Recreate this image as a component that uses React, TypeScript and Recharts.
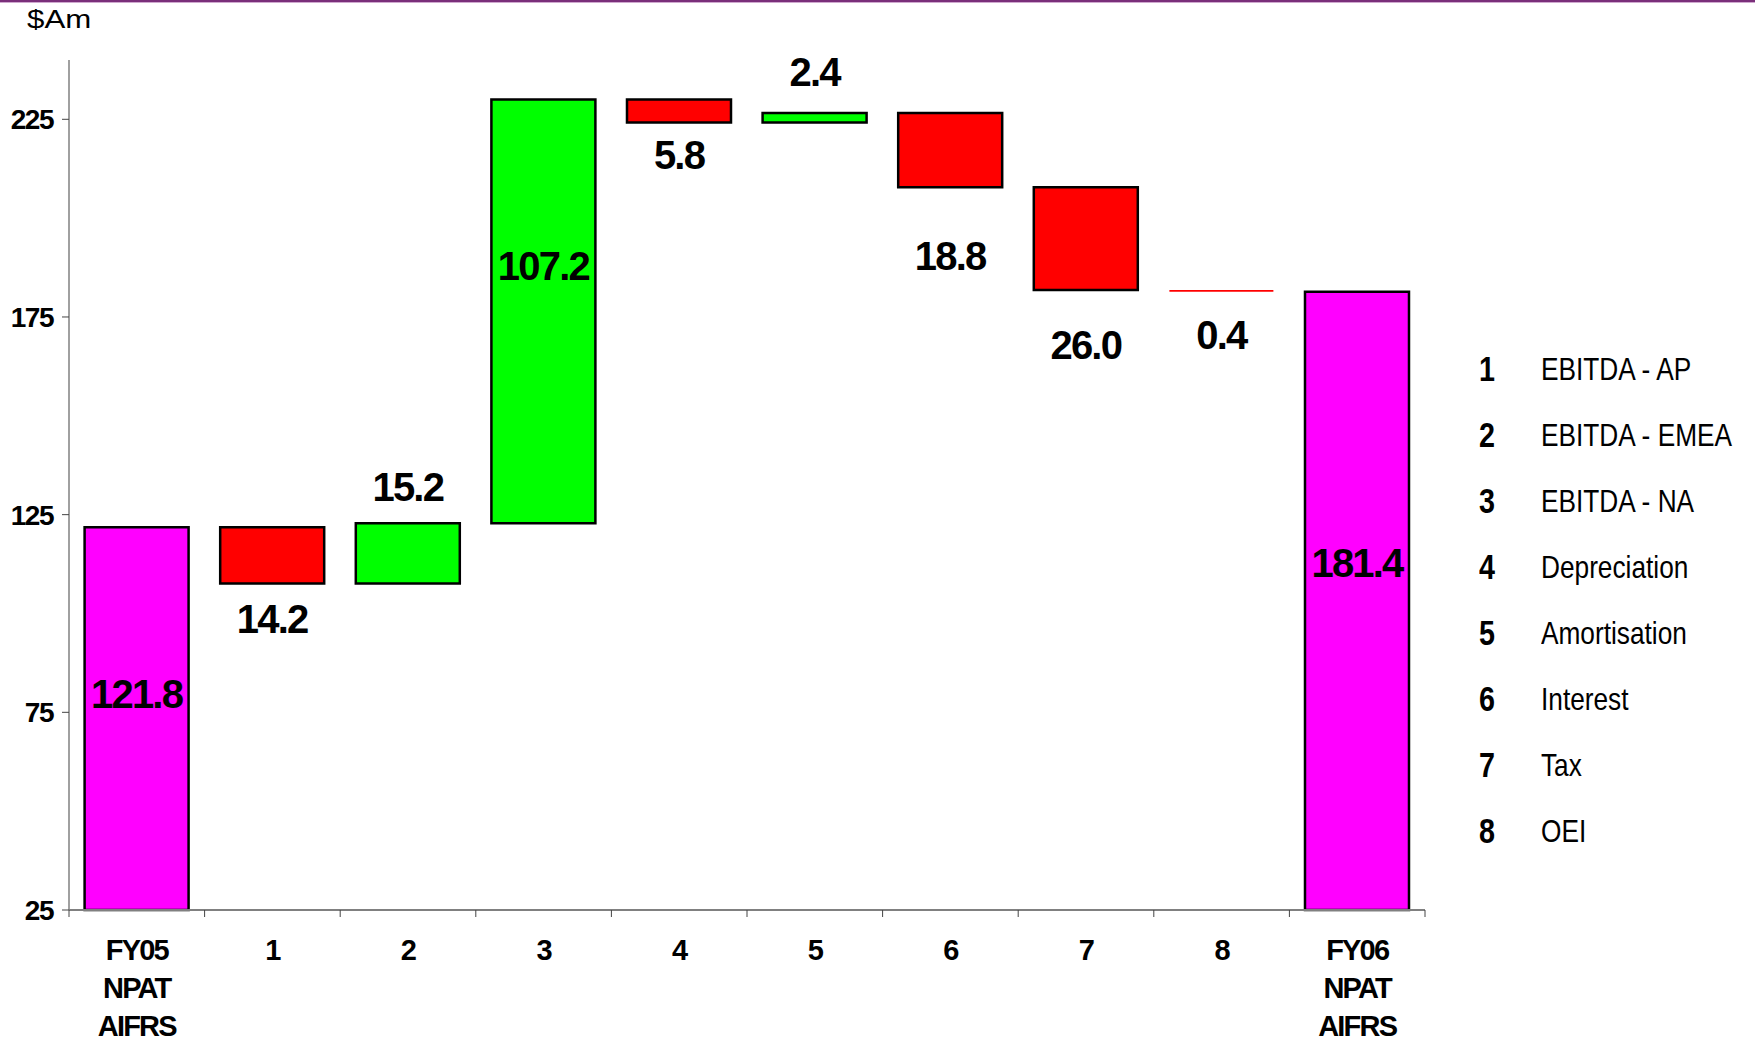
import { Bar, BarChart, Cell, LabelList, XAxis, YAxis } from "recharts";

// NPAT bridge, FY05 -> FY06 ($Am)
const categories = [
  "FY05 NPAT AIFRS",
  "1",
  "2",
  "3",
  "4",
  "5",
  "6",
  "7",
  "8",
  "FY06 NPAT AIFRS",
];
const openingNpat = 121.8;
const movements = [-14.2, 15.2, 107.2, -5.8, 2.4, -18.8, -26.0, -0.4];
const closingNpat = 181.4;
const legendItems = [
  "EBITDA - AP",
  "EBITDA - EMEA",
  "EBITDA - NA",
  "Depreciation",
  "Amortisation",
  "Interest",
  "Tax",
  "OEI",
];
const yTicks = [25, 75, 125, 175, 225];

// value labels sit at hand-picked offsets (px) from the top of each bar
const labelDy = [167, 92, -36, 166, 55, -41, 143, 158, 45, 271];

const Y_MIN = 25;
const Y_MAX = 240;

const CHART_W = 1755;
const CHART_H = 1043;
const Y_AXIS_W = 69;
const RIGHT_GAP = 330;
const X_AXIS_H = 133;
const HALF_BAND = (CHART_W - Y_AXIS_W - RIGHT_GAP) / categories.length / 2;

const COLORS = { total: "#FF00FF", up: "#00FF00", down: "#FF0000" };
const BOLD_FONT = "'Liberation Sans', Arial, Helvetica, sans-serif";

type Row = {
  name: string;
  range: [number, number];
  value: number;
  kind: "total" | "up" | "down";
};

function buildRows(): Row[] {
  const rows: Row[] = [
    { name: categories[0], range: [Y_MIN, openingNpat], value: openingNpat, kind: "total" },
  ];
  let running = openingNpat;
  movements.forEach((m, i) => {
    const next = Math.round((running + m) * 10) / 10;
    rows.push({
      name: categories[i + 1],
      range: [Math.min(running, next), Math.max(running, next)],
      value: Math.abs(m),
      kind: m < 0 ? "down" : "up",
    });
    running = next;
  });
  rows.push({
    name: categories[categories.length - 1],
    range: [Y_MIN, closingNpat],
    value: closingNpat,
    kind: "total",
  });
  return rows;
}

const rows = buildRows();

function CategoryTick(props: any) {
  const { x, y, payload, index } = props;
  const half = payload?.offset || HALF_BAND;
  const lines = String(payload.value).split(" ");
  const isLast = index === categories.length - 1;
  return (
    <g>
      <line x1={x - half} x2={x - half} y1={y} y2={y + 7} stroke="#444" strokeWidth={1} />
      {isLast && (
        <line x1={x + half} x2={x + half} y1={y} y2={y + 7} stroke="#444" strokeWidth={1} />
      )}
      <text
        x={x}
        y={y + 40}
        textAnchor="middle"
        fontFamily={BOLD_FONT}
        fontWeight={700}
        fontSize={29}
        letterSpacing={-1.8}
        fill="#000"
      >
        {lines.map((line, i) => (
          <tspan key={i} x={x} dy={i === 0 ? "0.35em" : 38}>
            {line}
          </tspan>
        ))}
      </text>
    </g>
  );
}

function ValueLabel(props: any) {
  const { x, y, width, height, index, value } = props;
  const top = height < 0 ? y + height : y;
  return (
    <text
      x={x + width / 2}
      y={top + labelDy[index]}
      dy="0.35em"
      textAnchor="middle"
      fontFamily={BOLD_FONT}
      fontWeight={700}
      fontSize={40}
      letterSpacing={-1.8}
      fill="#000"
    >
      {Number(value).toFixed(1)}
    </text>
  );
}

// Arial-Narrow look: Liberation Sans squeezed horizontally
const narrow: React.CSSProperties = {
  display: "inline-block",
  transform: "scaleX(0.82)",
  transformOrigin: "left center",
  whiteSpace: "nowrap",
};

function KeyList() {
  return (
    <div style={{ position: "absolute", left: 1479, top: 336, fontFamily: BOLD_FONT }}>
      {legendItems.map((item, i) => (
        <div key={item} style={{ position: "relative", height: 66, lineHeight: "66px" }}>
          <span style={{ ...narrow, position: "absolute", left: 0, fontWeight: 700, fontSize: 35 }}>
            {i + 1}
          </span>
          <span style={{ ...narrow, position: "absolute", left: 62, fontSize: 32 }}>{item}</span>
        </div>
      ))}
    </div>
  );
}

export default function App() {
  return (
    <div
      style={{
        position: "absolute",
        top: 0,
        left: 0,
        width: CHART_W,
        height: CHART_H,
        background: "#fff",
        overflow: "hidden",
      }}
    >
      <div style={{ position: "absolute", top: 0, left: 0, width: "100%", height: 2, background: "#7a2f7a" }} />
      <div style={{ position: "absolute", top: 2, left: 0, width: "100%", height: 1, background: "#cfa8cf" }} />
      <div
        style={{
          position: "absolute",
          left: 27,
          top: 4,
          fontFamily: BOLD_FONT,
          fontSize: 25,
          lineHeight: "30px",
          transform: "scaleX(1.25)",
          transformOrigin: "left center",
        }}
      >
        $Am
      </div>
      <BarChart
        width={CHART_W}
        height={CHART_H}
        data={rows}
        margin={{ top: 60, right: RIGHT_GAP, bottom: 0, left: 0 }}
        barCategoryGap="11.5%"
      >
        <XAxis
          dataKey="name"
          interval={0}
          height={X_AXIS_H}
          tickSize={0}
          tickMargin={0}
          tickLine={false}
          axisLine={{ stroke: "#808080", strokeWidth: 2 }}
          tick={<CategoryTick />}
        />
        <YAxis
          width={Y_AXIS_W}
          domain={[Y_MIN, Y_MAX]}
          ticks={yTicks}
          interval={0}
          tickSize={7}
          tickMargin={9}
          axisLine={{ stroke: "#808080", strokeWidth: 1.5 }}
          tickLine={{ stroke: "#444" }}
          tick={{
            fill: "#000",
            fontSize: 28,
            fontWeight: 700,
            fontFamily: BOLD_FONT,
            letterSpacing: -1.5,
          }}
        />
        <Bar dataKey="range" isAnimationActive={false} stroke="#000" strokeWidth={2.5}>
          {rows.map((row, i) => (
            <Cell
              key={`cell-${i}`}
              fill={COLORS[row.kind]}
              stroke={row.value < 1 ? "none" : "#000"}
            />
          ))}
          <LabelList dataKey="value" content={<ValueLabel />} />
        </Bar>
      </BarChart>
      <KeyList />
    </div>
  );
}
